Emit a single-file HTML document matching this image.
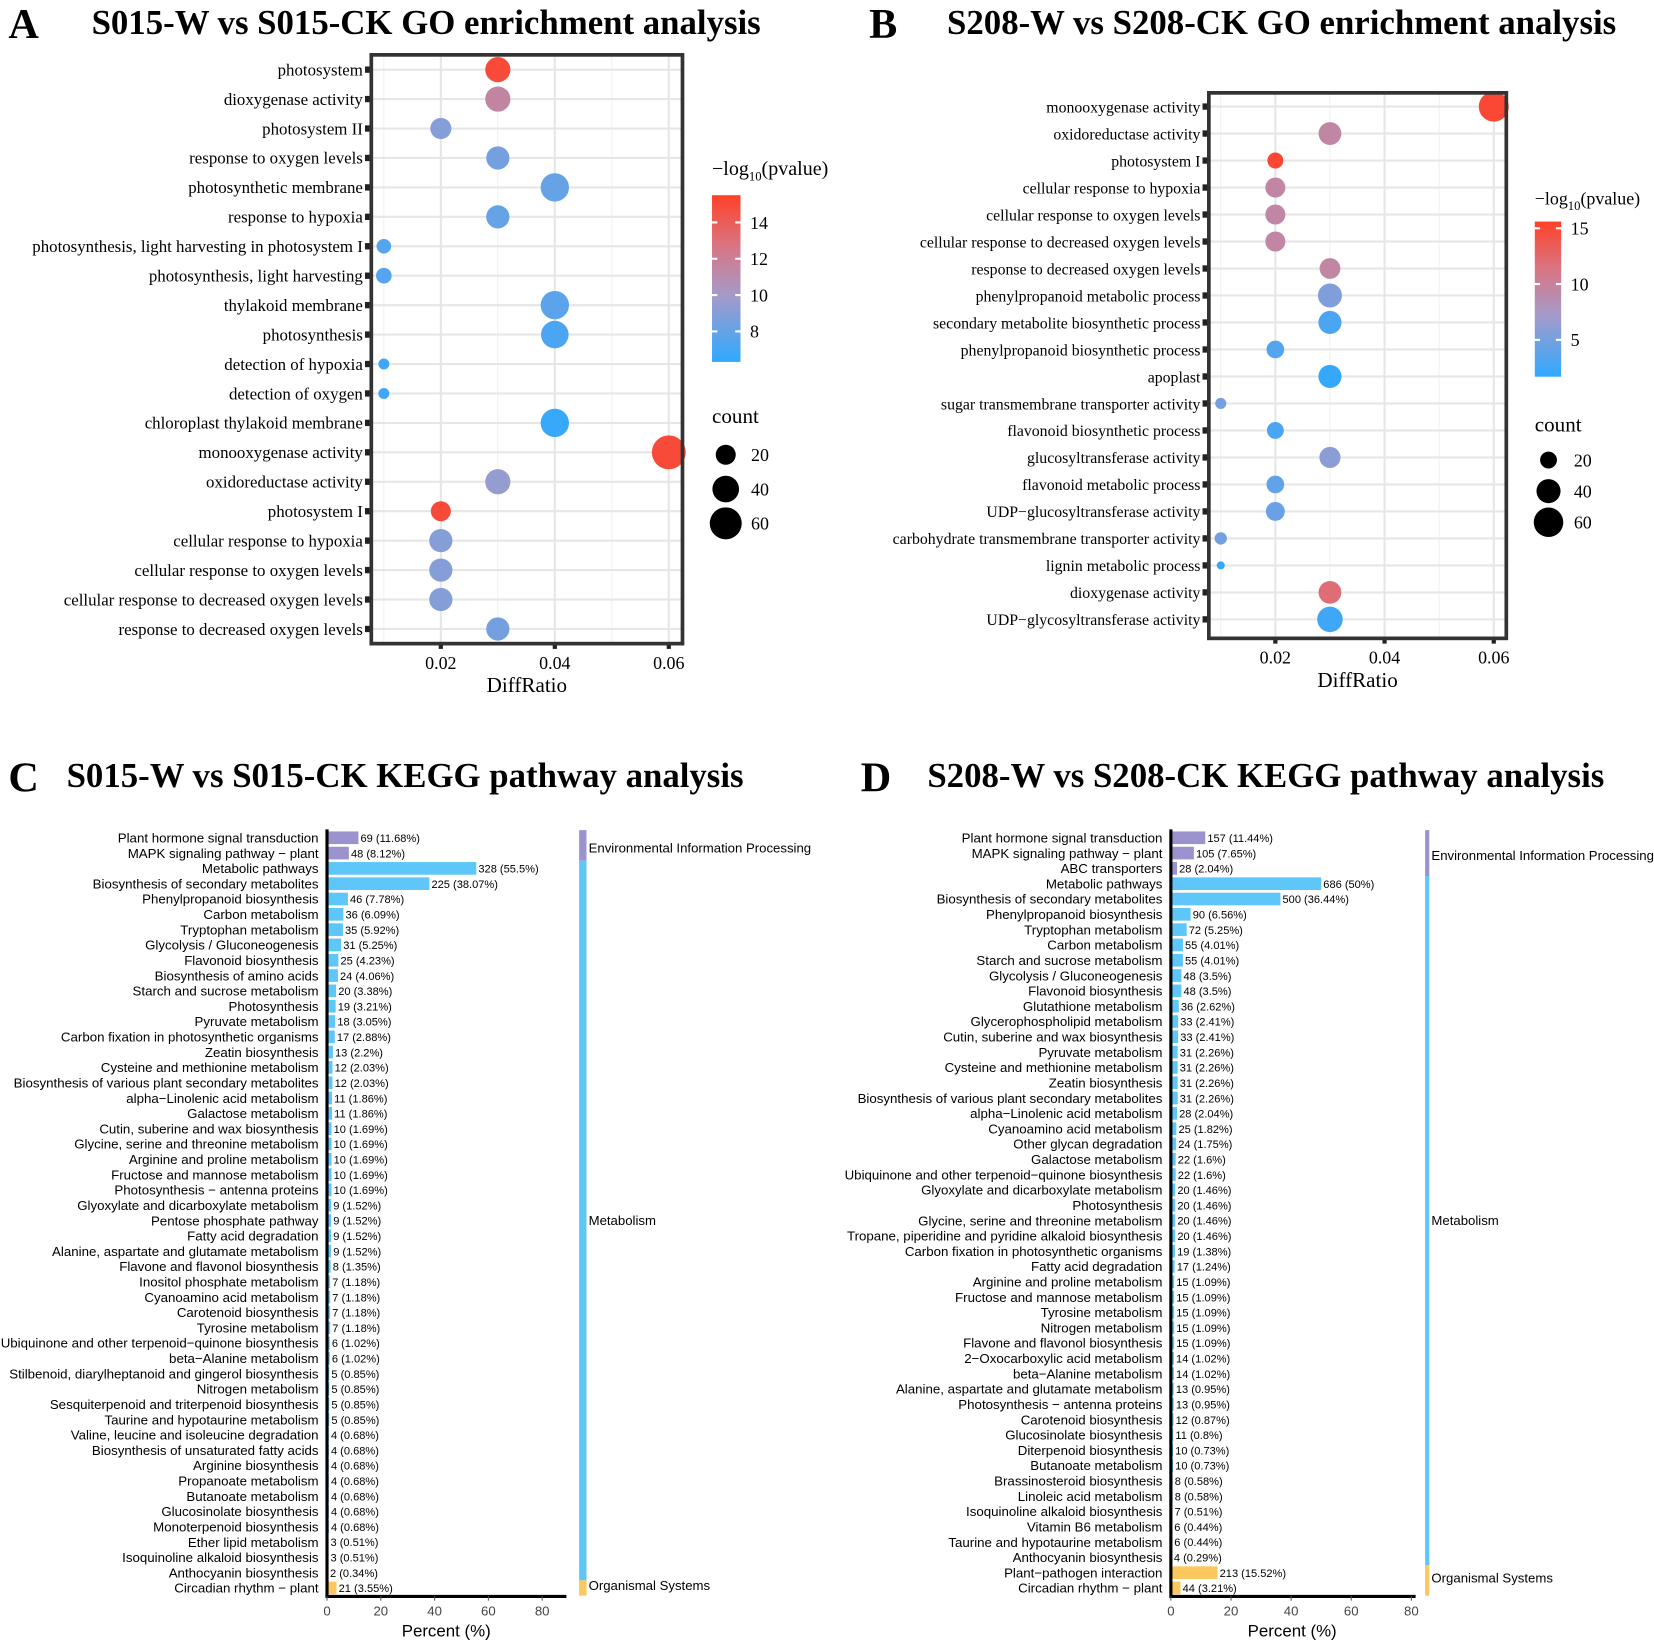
<!DOCTYPE html>
<html><head><meta charset="utf-8">
<style>
html,body{margin:0;padding:0;background:#fff;}
svg{display:block;}
.ser{font-family:"Liberation Serif",serif;}
.san{font-family:"Liberation Sans",sans-serif;}
</style></head>
<body>
<svg id="fig" width="1654" height="1646" viewBox="0 0 1568 1560" preserveAspectRatio="none" xmlns="http://www.w3.org/2000/svg">
<defs>
<linearGradient id="gradA" x1="0" y1="1" x2="0" y2="0">
<stop offset="0" stop-color="#2fa9ff"/><stop offset="0.4" stop-color="#a59ac9"/><stop offset="0.7" stop-color="#d97482"/><stop offset="1" stop-color="#ff4127"/>
</linearGradient>
</defs>
<g class="ser" font-weight="bold">
<text x="8" y="36" font-size="40">A</text>
<text x="404" y="32" font-size="33" text-anchor="middle">S015-W vs S015-CK GO enrichment analysis</text>
<text x="824" y="36" font-size="40">B</text>
<text x="1215" y="32" font-size="33" text-anchor="middle">S208-W vs S208-CK GO enrichment analysis</text>
<text x="8" y="750" font-size="40">C</text>
<text x="384" y="746" font-size="33" text-anchor="middle">S015-W vs S015-CK KEGG pathway analysis</text>
<text x="816" y="750" font-size="40">D</text>
<text x="1200" y="746" font-size="33" text-anchor="middle">S208-W vs S208-CK KEGG pathway analysis</text>
</g>
<g id="pa"></g>
<g id="pb"></g>
<g id="pc"></g>
<g id="pd"></g>
</svg>
<script>
// ---------- Panel A data ----------
const termsA = ["photosystem","dioxygenase activity","photosystem II","response to oxygen levels","photosynthetic membrane","response to hypoxia","photosynthesis, light harvesting in photosystem I","photosynthesis, light harvesting","thylakoid membrane","photosynthesis","detection of hypoxia","detection of oxygen","chloroplast thylakoid membrane","monooxygenase activity","oxidoreductase activity","photosystem I","cellular response to hypoxia","cellular response to oxygen levels","cellular response to decreased oxygen levels","response to decreased oxygen levels"];
const ratioA = [0.03,0.03,0.02,0.03,0.04,0.03,0.01,0.01,0.04,0.04,0.01,0.01,0.04,0.06,0.03,0.02,0.02,0.02,0.02,0.03];
const countA = [35,35,23,29,46,29,8,10,46,43,2,2,46,68,35,20,29,29,29,29];
const pvalA = [15,11.5,9,8.5,8,8,7.5,7.5,7.7,7.2,6.8,6.8,6.6,15,9.5,15,9,9,9,8.5];
const xTicksA = [0.02,0.04,0.06];
const cTicksA = [8,10,12,14];
const sizeTicksA = [20,40,60];
// ---------- Panel B data ----------
const termsB = ["monooxygenase activity","oxidoreductase activity","photosystem I","cellular response to hypoxia","cellular response to oxygen levels","cellular response to decreased oxygen levels","response to decreased oxygen levels","phenylpropanoid metabolic process","secondary metabolite biosynthetic process","phenylpropanoid biosynthetic process","apoplast","sugar transmembrane transporter activity","flavonoid biosynthetic process","glucosyltransferase activity","flavonoid metabolic process","UDP\u2212glucosyltransferase activity","carbohydrate transmembrane transporter activity","lignin metabolic process","dioxygenase activity","UDP\u2212glycosyltransferase activity"];
const ratioB = [0.06,0.03,0.02,0.02,0.02,0.02,0.03,0.03,0.03,0.02,0.03,0.01,0.02,0.03,0.02,0.02,0.01,0.01,0.03,0.03];
const countB = [62,36,18,28,28,28,30,40,37,22,37,9,20,31,22,25,11,5,36,45];
const pvalB = [15,9.5,15,9.5,9.5,9.5,9.5,5.5,3,3.5,2,5,3,6,4,4.5,5,2,12,2.5];
const xTicksB = [0.02,0.04,0.06];
const cTicksB = [5,10,15];
const sizeTicksB = [20,40,60];
// ---------- Panel C data ----------
const pathC = ["Plant hormone signal transduction","MAPK signaling pathway \u2212 plant","Metabolic pathways","Biosynthesis of secondary metabolites","Phenylpropanoid biosynthesis","Carbon metabolism","Tryptophan metabolism","Glycolysis / Gluconeogenesis","Flavonoid biosynthesis","Biosynthesis of amino acids","Starch and sucrose metabolism","Photosynthesis","Pyruvate metabolism","Carbon fixation in photosynthetic organisms","Zeatin biosynthesis","Cysteine and methionine metabolism","Biosynthesis of various plant secondary metabolites","alpha\u2212Linolenic acid metabolism","Galactose metabolism","Cutin, suberine and wax biosynthesis","Glycine, serine and threonine metabolism","Arginine and proline metabolism","Fructose and mannose metabolism","Photosynthesis \u2212 antenna proteins","Glyoxylate and dicarboxylate metabolism","Pentose phosphate pathway","Fatty acid degradation","Alanine, aspartate and glutamate metabolism","Flavone and flavonol biosynthesis","Inositol phosphate metabolism","Cyanoamino acid metabolism","Carotenoid biosynthesis","Tyrosine metabolism","Ubiquinone and other terpenoid\u2212quinone biosynthesis","beta\u2212Alanine metabolism","Stilbenoid, diarylheptanoid and gingerol biosynthesis","Nitrogen metabolism","Sesquiterpenoid and triterpenoid biosynthesis","Taurine and hypotaurine metabolism","Valine, leucine and isoleucine degradation","Biosynthesis of unsaturated fatty acids","Arginine biosynthesis","Propanoate metabolism","Butanoate metabolism","Glucosinolate biosynthesis","Monoterpenoid biosynthesis","Ether lipid metabolism","Isoquinoline alkaloid biosynthesis","Anthocyanin biosynthesis","Circadian rhythm \u2212 plant"];
const countC = [69,48,328,225,46,36,35,31,25,24,20,19,18,17,13,12,12,11,11,10,10,10,10,10,9,9,9,9,8,7,7,7,7,6,6,5,5,5,5,4,4,4,4,4,4,4,3,3,2,21];
const pctC = ["11.68","8.12","55.5","38.07","7.78","6.09","5.92","5.25","4.23","4.06","3.38","3.21","3.05","2.88","2.2","2.03","2.03","1.86","1.86","1.69","1.69","1.69","1.69","1.69","1.52","1.52","1.52","1.52","1.35","1.18","1.18","1.18","1.18","1.02","1.02","0.85","0.85","0.85","0.85","0.68","0.68","0.68","0.68","0.68","0.68","0.68","0.51","0.51","0.34","3.55"];
const groupC = ["E","E","M","M","M","M","M","M","M","M","M","M","M","M","M","M","M","M","M","M","M","M","M","M","M","M","M","M","M","M","M","M","M","M","M","M","M","M","M","M","M","M","M","M","M","M","M","M","M","O"];
// ---------- Panel D data ----------
const pathD = ["Plant hormone signal transduction","MAPK signaling pathway \u2212 plant","ABC transporters","Metabolic pathways","Biosynthesis of secondary metabolites","Phenylpropanoid biosynthesis","Tryptophan metabolism","Carbon metabolism","Starch and sucrose metabolism","Glycolysis / Gluconeogenesis","Flavonoid biosynthesis","Glutathione metabolism","Glycerophospholipid metabolism","Cutin, suberine and wax biosynthesis","Pyruvate metabolism","Cysteine and methionine metabolism","Zeatin biosynthesis","Biosynthesis of various plant secondary metabolites","alpha\u2212Linolenic acid metabolism","Cyanoamino acid metabolism","Other glycan degradation","Galactose metabolism","Ubiquinone and other terpenoid\u2212quinone biosynthesis","Glyoxylate and dicarboxylate metabolism","Photosynthesis","Glycine, serine and threonine metabolism","Tropane, piperidine and pyridine alkaloid biosynthesis","Carbon fixation in photosynthetic organisms","Fatty acid degradation","Arginine and proline metabolism","Fructose and mannose metabolism","Tyrosine metabolism","Nitrogen metabolism","Flavone and flavonol biosynthesis","2\u2212Oxocarboxylic acid metabolism","beta\u2212Alanine metabolism","Alanine, aspartate and glutamate metabolism","Photosynthesis \u2212 antenna proteins","Carotenoid biosynthesis","Glucosinolate biosynthesis","Diterpenoid biosynthesis","Butanoate metabolism","Brassinosteroid biosynthesis","Linoleic acid metabolism","Isoquinoline alkaloid biosynthesis","Vitamin B6 metabolism","Taurine and hypotaurine metabolism","Anthocyanin biosynthesis","Plant\u2212pathogen interaction","Circadian rhythm \u2212 plant"];
const countD = [157,105,28,686,500,90,72,55,55,48,48,36,33,33,31,31,31,31,28,25,24,22,22,20,20,20,20,19,17,15,15,15,15,15,14,14,13,13,12,11,10,10,8,8,7,6,6,4,213,44];
const pctD = ["11.44","7.65","2.04","50","36.44","6.56","5.25","4.01","4.01","3.5","3.5","2.62","2.41","2.41","2.26","2.26","2.26","2.26","2.04","1.82","1.75","1.6","1.6","1.46","1.46","1.46","1.46","1.38","1.24","1.09","1.09","1.09","1.09","1.09","1.02","1.02","0.95","0.95","0.87","0.8","0.73","0.73","0.58","0.58","0.51","0.44","0.44","0.29","15.52","3.21"];
const groupD = ["E","E","E","M","M","M","M","M","M","M","M","M","M","M","M","M","M","M","M","M","M","M","M","M","M","M","M","M","M","M","M","M","M","M","M","M","M","M","M","M","M","M","M","M","M","M","M","M","O","O"];
const xTicksKegg = [0,20,40,60,80];

const NS = "http://www.w3.org/2000/svg";
function mk(parent, tag, attrs, text){
  const e = document.createElementNS(NS, tag);
  for (const k in attrs) e.setAttribute(k, attrs[k]);
  if (text !== undefined) e.textContent = text;
  parent.appendChild(e);
  return e;
}
function lerp(a,b,t){return a+(b-a)*t;}
const stops=[[0,[47,169,255]],[0.4,[165,154,201]],[0.7,[217,116,130]],[1,[255,65,39]]];
function colorAt(t){
  t=Math.max(0,Math.min(1,t));
  for(let i=1;i<stops.length;i++){
    if(t<=stops[i][0]){
      const a=stops[i-1],b=stops[i];const u=(t-a[0])/(b[0]-a[0]);
      return "rgb("+[0,1,2].map(j=>Math.round(lerp(a[1][j],b[1][j],u))).join(",")+")";
    }
  }
  return "rgb(255,65,39)";
}

function dotplot(g, cfg, terms, ratios, counts, pvals, xTicks, cTicks, sTicks){
  const L=cfg.left,R=cfg.right,T=cfg.top,B=cfg.bottom;
  const xs = v => L + (v - cfg.xmin)/(cfg.xmax-cfg.xmin)*(R-L);
  const ys = i => cfg.y0 + i*cfg.step;
  const rs = c => Math.sqrt(Math.max(4, cfg.ra + cfg.rb*c));
  const cs = p => colorAt((p-cfg.cmin)/(cfg.cmax-cfg.cmin));
  mk(g,"rect",{x:L,y:T,width:R-L,height:B-T,fill:"#fff"});
  for(let v=0.01; v<=0.061; v+=0.02){
    const l=mk(g,"line",{x1:xs(v),x2:xs(v),y1:T,y2:B,stroke:"#f0f0f0","stroke-width":1});
    
    
  }
  xTicks.forEach(v=>{
    const l=mk(g,"line",{x1:xs(v),x2:xs(v),y1:T,y2:B,stroke:"#e6e6e6","stroke-width":2});
    
    
    const tk=mk(g,"rect",{x:xs(v)-2,y:B,width:4,height:5,fill:"#222"});
    
    
    const t=mk(g,"text",{x:xs(v),y:B+24,"text-anchor":"middle","font-size":17,class:"ser"},v.toFixed(2));
    
    
  });
  terms.forEach((name,i)=>{
    const y=ys(i);
    const l=mk(g,"line",{x1:L,x2:R,y1:y,y2:y,stroke:"#e6e6e6","stroke-width":2});
    
    
    const tk=mk(g,"rect",{x:L-6,y:y-3,width:5,height:6,fill:"#222"});
    
    
    const t=mk(g,"text",{x:L-8,y:y+5.5,"text-anchor":"end","font-size":cfg.fs,class:"ser"},name);
    
    
  });
  terms.forEach((name,i)=>{
    const c=mk(g,"circle",{cx:xs(ratios[i]),cy:ys(i),r:rs(counts[i]),fill:cs(pvals[i])});
    
    
  });
  const bx=mk(g,"rect",{x:L,y:T,width:R-L,height:B-T,fill:"none",stroke:"#333","stroke-width":3.5});
  
  
  const xt=mk(g,"text",{x:(L+R)/2,y:B+46,"text-anchor":"middle","font-size":20,class:"ser"},"DiffRatio");
  
  
  const lt=mk(g,"text",{x:cfg.lx,y:cfg.ly,"font-size":cfg.lfs,class:"ser"});
  
  
  mk(lt,"tspan",{},"\u2212log");
  mk(lt,"tspan",{"font-size":12,dy:5},"10");
  mk(lt,"tspan",{dy:-5},"(pvalue)");
  const cb=mk(g,"rect",{x:cfg.lx,y:cfg.cbT,width:cfg.cbw,height:cfg.cbB-cfg.cbT,fill:"url(#gradA)"});
  
  
  const cy = v => cfg.cbB - (v-cfg.cmin)/(cfg.cmax-cfg.cmin)*(cfg.cbB-cfg.cbT);
  cTicks.forEach(v=>{
    mk(g,"line",{x1:cfg.lx,x2:cfg.lx+5,y1:cy(v),y2:cy(v),stroke:"#fff","stroke-width":2});
    mk(g,"line",{x1:cfg.lx+cfg.cbw-5,x2:cfg.lx+cfg.cbw,y1:cy(v),y2:cy(v),stroke:"#fff","stroke-width":2});
    const t=mk(g,"text",{x:cfg.lx+cfg.cbw+9,y:cy(v)+6,"font-size":17,class:"ser"},String(v));
    
    
  });
  const ct=mk(g,"text",{x:cfg.lx,y:cfg.sy,"font-size":20,class:"ser"},"count");
  
  
  sTicks.forEach((v,i)=>{
    const yy=cfg.sy+cfg.soff+i*cfg.sstep;
    const c=mk(g,"circle",{cx:cfg.lx+13,cy:yy,r:rs(v),fill:"#000"});
    
    
    const t=mk(g,"text",{x:cfg.lx+37,y:yy+6,"font-size":17,class:"ser"},String(v));
    
    
  });
}

dotplot(document.getElementById("pa"),
  {left:352,right:647,top:52,bottom:610,xmin:0.0078,xmax:0.0624,y0:66,step:27.9,fs:16,
   ra:20,rb:3.5,cmin:6.32,cmax:15.5,lx:675,ly:166,lfs:19,cbw:27,cbT:185,cbB:343,sy:401,soff:30,sstep:32.5},
  termsA,ratioA,countA,pvalA,xTicksA,cTicksA,sizeTicksA);
dotplot(document.getElementById("pb"),
  {left:1146,right:1428,top:88,bottom:605,xmin:0.00782,xmax:0.0623,y0:101,step:25.58,fs:15,
   ra:-2,rb:3.3,cmin:1.7,cmax:15.6,lx:1455,ly:194,lfs:17,cbw:25,cbT:210,cbB:357,sy:409,soff:27,sstep:29.5},
  termsB,ratioB,countB,pvalB,xTicksB,cTicksB,sizeTicksB);

const groupColor={E:"#9b93cd",M:"#5ec6f8",O:"#fbc75e"};
const groupName={E:"Environmental Information Processing",M:"Metabolism",O:"Organismal Systems"};
function kegg(g,cfg,names,counts,pcts,groups){
  const xs = v => cfg.x0 + v*cfg.ppu;
  const ys = i => cfg.y0 + i*cfg.step;
  names.forEach((n,i)=>{
    const y=ys(i), p=parseFloat(pcts[i]);
    const b=mk(g,"rect",{x:cfg.x0,y:y-6,width:Math.max(1,xs(p)-cfg.x0),height:12,fill:groupColor[groups[i]]});
    
    
    const l=mk(g,"text",{x:cfg.x0-8,y:y+4.5,"text-anchor":"end","font-size":12.6,class:"san"},n);
    
    
    const v=mk(g,"text",{x:xs(p)+2,y:y+4,"font-size":10.5,class:"san"},counts[i]+" ("+pcts[i]+"%)");
    
    
  });
  const ya=mk(g,"line",{x1:cfg.x0,x2:cfg.x0,y1:cfg.top,y2:cfg.bottom+1.5,stroke:"#000","stroke-width":3});
  
  
  const xa=mk(g,"line",{x1:cfg.x0,x2:cfg.xend,y1:cfg.bottom,y2:cfg.bottom,stroke:"#000","stroke-width":3});
  
  
  xTicksKegg.forEach(v=>{
    mk(g,"line",{x1:xs(v),x2:xs(v),y1:cfg.bottom,y2:cfg.bottom+4,stroke:"#555","stroke-width":1});
    const t=mk(g,"text",{x:xs(v),y:cfg.bottom+18,"text-anchor":"middle","font-size":12.5,fill:"#444",class:"san"},String(v));
    
    
  });
  const xt=mk(g,"text",{x:cfg.titleX,y:cfg.bottom+38,"text-anchor":"middle","font-size":16,class:"san"},"Percent (%)");
  
  
  ["E","M","O"].forEach(k=>{
    const idx=groups.map((q,i)=>q===k?i:-1).filter(i=>i>=0);
    if(!idx.length) return;
    const y1=ys(idx[0])-cfg.step/2, y2=ys(idx[idx.length-1])+cfg.step/2;
    const s=mk(g,"rect",{x:cfg.sx,y:y1,width:cfg.sw,height:y2-y1,fill:groupColor[k]});
    
    
    const t=mk(g,"text",{x:cfg.sx+cfg.sw+2,y:cfg.labY[k],"font-size":12.5,class:"san"},groupName[k]);
    
    
  });
}
kegg(document.getElementById("pc"),
  {x0:310,ppu:2.55,y0:794,step:14.51,top:786,bottom:1513,xend:537,titleX:423,sx:549,sw:7,
   labY:{E:808,M:1161,O:1507}},pathC,countC,pctC,groupC);
kegg(document.getElementById("pd"),
  {x0:1110,ppu:2.85,y0:794,step:14.51,top:786,bottom:1513,xend:1342,titleX:1225,sx:1351,sw:4,
   labY:{E:815,M:1161,O:1500}},pathD,countD,pctD,groupD);
</script>
</body></html>
